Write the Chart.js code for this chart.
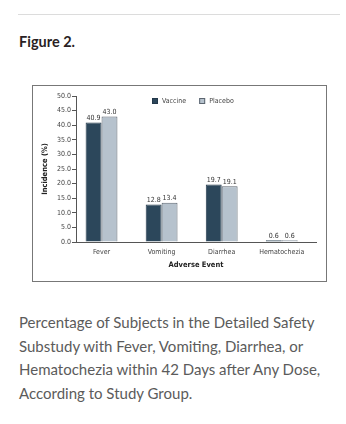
<!DOCTYPE html>
<html>
<head>
<meta charset="utf-8">
<script src="https://cdn.jsdelivr.net/npm/chart.js@4"></script>
<style>
  body { margin: 0; width: 346px; height: 424px; background: #fff; position: relative; overflow: hidden; }
  .rule { position: absolute; left: 18px; top: 14px; width: 322px; height: 0; border-top: 1px solid #dcdcdc; }
  .fig { position: absolute; left: 19px; top: 33px; font: bold 14.5px Lato, sans-serif; color: #2a1f24; }
  .box { position: absolute; left: 32px; top: 85px; width: 293px; height: 195px; border: 1px solid #777; }
  .box canvas { position: absolute; left: 0; top: 0; }
  .caption { position: absolute; left: 19px; top: 311px; width: 320px; font: 15px Lato, sans-serif; line-height: 23.5px; color: #5b5b5b; }
</style>
</head>
<body>
<div class="rule"></div>
<div class="fig">Figure 2.</div>
<div class="box"><canvas id="grafico" width="293" height="195"></canvas></div>
<div class="caption">Percentage of Subjects in the Detailed Safety Substudy with Fever, Vomiting, Diarrhea, or Hematochezia within 42 Days after Any Dose, According to Study Group.</div>
<script>
const eventos = ['Fever', 'Vomiting', 'Diarrhea', 'Hematochezia'];
const vacuna = [40.9, 12.8, 19.7, 0.6];
const placebo = [43.0, 13.4, 19.1, 0.6];
const marcasY = [0, 5, 10, 15, 20, 25, 30, 35, 40, 45, 50];

const fuente = "'Liberation Sans Narrow', 'DejaVu Sans Condensed', sans-serif";

// puntos {x, y} para un eje x lineal con las categorías en 0..3
const puntos = serie => serie.map((v, i) => ({ x: i, y: v }));

// etiquetas de valor encima de cada barra
const etiquetasValor = {
    id: 'etiquetasValor',
    afterDatasetsDraw(chart) {
        const ctx = chart.ctx;
        ctx.save();
        ctx.font = '7px ' + fuente;
        ctx.fillStyle = '#333';
        ctx.textAlign = 'center';
        ctx.textBaseline = 'bottom';
        chart.data.datasets.forEach((ds, i) => {
            chart.getDatasetMeta(i).data.forEach((bar, j) => {
                ctx.fillText(ds.data[j].y.toFixed(1), bar.x, bar.y - 1);
            });
        });
        ctx.restore();
    }
};

// leyenda pequeña dentro del área del gráfico
const leyenda = {
    id: 'leyenda',
    afterDraw(chart) {
        const ctx = chart.ctx;
        ctx.save();
        ctx.font = '7px ' + fuente;
        ctx.textBaseline = 'middle';
        let x = 119;
        const y = 15;
        chart.data.datasets.forEach(ds => {
            ctx.fillStyle = ds.backgroundColor;
            ctx.strokeStyle = ds.borderColor;
            ctx.lineWidth = 1;
            ctx.fillRect(x, y - 3, 6, 6);
            ctx.strokeRect(x + 0.5, y - 2.5, 5, 5);
            ctx.fillStyle = '#444';
            ctx.fillText(ds.label, x + 10, y);
            x += 10 + ctx.measureText(ds.label).width + 13;
        });
        ctx.restore();
    }
};

new Chart(document.getElementById('grafico'), {
    type: 'bar',
    data: {
        datasets: [
            { label: 'Vaccine', data: puntos(vacuna), backgroundColor: '#2c475b', borderColor: '#23384a', borderWidth: 1 },
            { label: 'Placebo', data: puntos(placebo), backgroundColor: '#b6c2cd', borderColor: '#5c6670', borderWidth: 1 }
        ]
    },
    options: {
        responsive: false,
        animation: false,
        devicePixelRatio: 1,
        categoryPercentage: 0.53,
        barPercentage: 1,
        layout: { padding: { top: 10, right: 10, left: 8, bottom: 11 } },
        plugins: {
            tooltip: { enabled: false },
            legend: { display: false }
        },
        scales: {
            x: {
                type: 'linear',
                offset: false,
                min: -0.425,
                max: 3.57,
                afterBuildTicks(scale) { scale.ticks = eventos.map((e, i) => ({ value: i })); },
                grid: { display: false, drawTicks: false },
                border: { color: '#555', width: 1 },
                ticks: {
                    color: '#444',
                    padding: 6,
                    maxRotation: 0,
                    autoSkip: false,
                    font: { size: 7, family: fuente },
                    callback: v => eventos[v]
                },
                title: { display: true, text: 'Adverse Event', color: '#222', padding: { top: 0, bottom: 0 }, font: { size: 7.5, weight: 'bold', family: fuente } },
                afterFit(scale) { scale.height = 28; }
            },
            y: {
                min: 0,
                max: 50,
                afterBuildTicks(scale) { scale.ticks = marcasY.map(v => ({ value: v })); },
                grid: { drawOnChartArea: false, tickLength: 4, color: '#555' },
                border: { color: '#555', width: 1 },
                ticks: {
                    color: '#444',
                    padding: 1,
                    font: { size: 7, family: fuente },
                    callback: v => v.toFixed(1)
                },
                title: { display: true, text: 'Incidence (%)', color: '#222', padding: 0, font: { size: 7.5, weight: 'bold', family: fuente } },
                afterFit(scale) { scale.width = 35; }
            }
        }
    },
    plugins: [etiquetasValor, leyenda]
});
</script>
</body>
</html>
